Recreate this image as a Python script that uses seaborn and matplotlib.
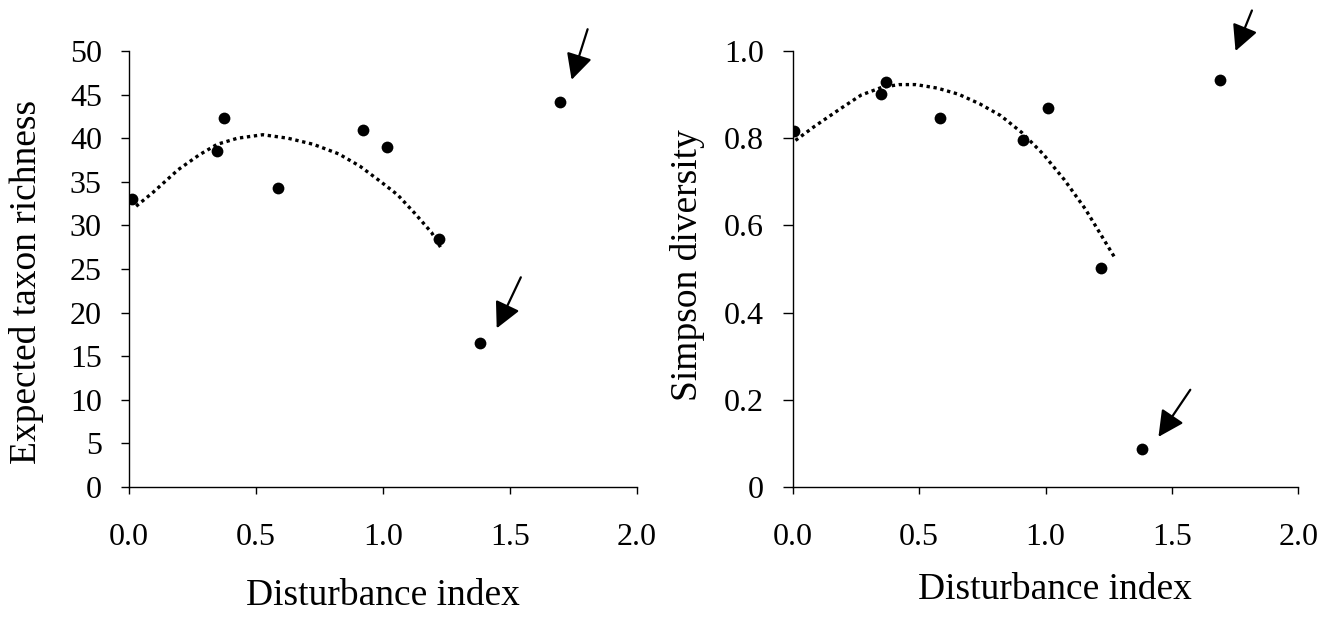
import matplotlib
matplotlib.use("Agg")
import matplotlib.pyplot as plt
import seaborn as sns
import pandas as pd

# Disturbance index and responses for the nine sites
disturbance = [0.012, 0.347, 0.374, 0.585, 0.920, 1.015, 1.219, 1.384, 1.698]
richness = [33.0, 38.5, 42.3, 34.3, 41.0, 39.0, 28.4, 16.5, 44.1]
dist_simpson = [0.003, 0.350, 0.368, 0.581, 0.911, 1.008, 1.218, 1.380, 1.692]
simpson = [0.816, 0.901, 0.929, 0.846, 0.796, 0.869, 0.502, 0.087, 0.933]

# dotted trend lines
rich_trend_x = [0.028, 0.095, 0.194, 0.277, 0.347, 0.427, 0.527, 0.626,
                0.726, 0.826, 0.909, 0.992, 1.058, 1.125, 1.191, 1.229]
rich_trend_y = [32.2, 33.8, 36.4, 38.1, 39.3, 40.0, 40.4, 40.0,
                39.3, 38.2, 36.8, 35.0, 33.5, 31.4, 29.2, 27.4]
simp_trend_x = [0.010, 0.085, 0.186, 0.270, 0.353, 0.420, 0.487, 0.571, 0.655,
                0.739, 0.822, 0.906, 0.990, 1.074, 1.157, 1.224, 1.271]
simp_trend_y = [0.795, 0.827, 0.867, 0.899, 0.917, 0.923, 0.923, 0.915, 0.901,
                0.879, 0.852, 0.813, 0.764, 0.705, 0.638, 0.574, 0.529]

x_ticks = [0.0, 0.5, 1.0, 1.5, 2.0]
x_tick_labels = ["0.0", "0.5", "1.0", "1.5", "2.0"]
rich_ticks = list(range(0, 51, 5))
simp_ticks = [0, 0.2, 0.4, 0.6, 0.8, 1.0]
simp_tick_labels = ["0", "0.2", "0.4", "0.6", "0.8", "1.0"]

# arrows: (tail x, tail y, head x, head y)
rich_arrows = [(1.806, 52.5, 1.743, 46.7), (1.543, 24.05, 1.448, 18.2)]
simp_arrows = [(1.817, 1.093, 1.752, 1.0), (1.573, 0.223, 1.447, 0.115)]

sns.set_style("ticks")
plt.rcParams["font.family"] = ["Liberation Serif", "DejaVu Serif"]
for key in ("text.color", "axes.labelcolor", "xtick.color", "ytick.color",
            "xtick.labelcolor", "ytick.labelcolor"):
    plt.rcParams[key] = "black"

df_rich = pd.DataFrame({"x": disturbance, "y": richness})
df_simp = pd.DataFrame({"x": dist_simpson, "y": simpson})
trend_rich = pd.DataFrame({"x": rich_trend_x, "y": rich_trend_y})
trend_simp = pd.DataFrame({"x": simp_trend_x, "y": simp_trend_y})

fig = plt.figure(figsize=(13.26, 6.17), dpi=100)
ax1 = fig.add_axes([0.0973, 0.2107, 0.383, 0.7066])
ax2 = fig.add_axes([0.598, 0.2107, 0.381, 0.7066])


def draw_panel(ax, df, trend, arrows, ylim, yticks, ylabels, ylabel,
               ylen, ylab_xy, xlab_xy):
    sns.lineplot(data=trend, x="x", y="y", ax=ax, sort=False, color="black",
                 lw=2.4, ls=(0, (1, 1.1)))
    sns.scatterplot(data=df, x="x", y="y", ax=ax, color="black", s=72,
                    edgecolor="black", linewidth=0, zorder=3)
    for tx, ty, hx, hy in arrows:
        ax.annotate("", xy=(hx, hy), xytext=(tx, ty), annotation_clip=False,
                    arrowprops=dict(arrowstyle="-|>,head_length=0.75,head_width=0.38",
                                    mutation_scale=21, lw=1.6, color="black",
                                    shrinkA=0, shrinkB=0))
    ax.set_xlim(0, 2.0)
    ax.set_ylim(*ylim)
    ax.set_xticks(x_ticks)
    ax.set_xticklabels(x_tick_labels)
    ax.set_yticks(yticks)
    ax.set_yticklabels(ylabels)
    ax.tick_params(axis="both", labelsize=23, width=1, color="black")
    ax.tick_params(axis="x", length=5, pad=21)
    ax.tick_params(axis="y", length=ylen, pad=14)
    for s in ("left", "bottom"):
        ax.spines[s].set_color("black")
        ax.spines[s].set_linewidth(1)
    sns.despine(ax=ax)
    ax.set_xlabel("Disturbance index", fontsize=27)
    ax.set_ylabel(ylabel, fontsize=27)
    ax.xaxis.label.set_verticalalignment("center")
    ax.yaxis.label.set_verticalalignment("center")
    ax.yaxis.set_label_coords(*ylab_xy)
    ax.xaxis.set_label_coords(*xlab_xy)


draw_panel(ax1, df_rich, trend_rich, rich_arrows, (0, 50), rich_ticks,
           [str(t) for t in rich_ticks], "Expected taxon richness", 5.5,
           (-0.201, 0.47), (0.5, -0.25))
draw_panel(ax2, df_simp, trend_simp, simp_arrows, (0, 1.0), simp_ticks,
           simp_tick_labels, "Simpson diversity", 7,
           (-0.208, 0.509), (0.519, -0.236))

fig.savefig("out.png", dpi=100)
plt.close(fig)
